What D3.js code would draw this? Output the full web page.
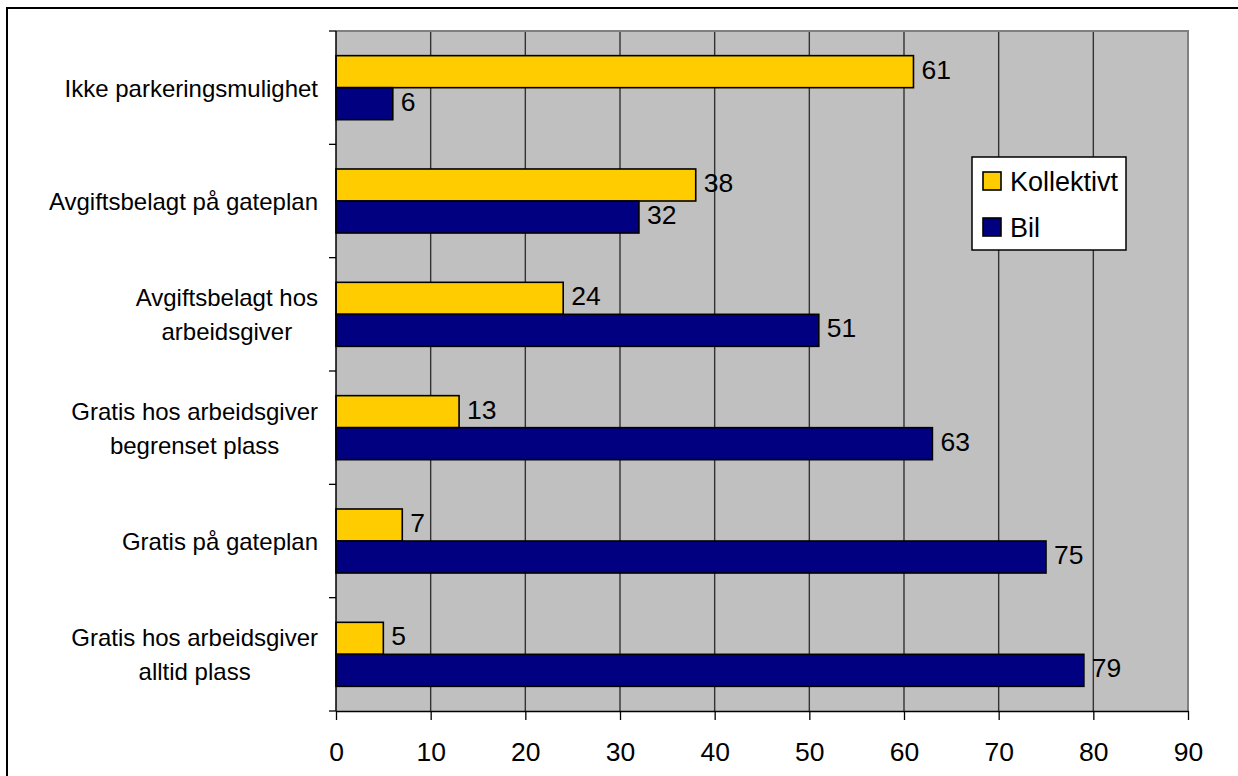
<!DOCTYPE html>
<html>
<head>
<meta charset="utf-8">
<script src="https://cdn.jsdelivr.net/npm/d3@7"></script>
<style>
	body { margin: 0; background: #fff; }
	text { font-family: 'Liberation Sans', Arial, sans-serif; fill: #000; }
</style>
</head>
<body>
<div id="chart"></div>
<script>
// categories, top to bottom (each entry = label lines)
var categories = [
	['Ikke parkeringsmulighet'],
	['Avgiftsbelagt på gateplan'],
	['Avgiftsbelagt hos', 'arbeidsgiver'],
	['Gratis hos arbeidsgiver', 'begrenset plass'],
	['Gratis på gateplan'],
	['Gratis hos arbeidsgiver', 'alltid plass']
];
var series = ['Kollektivt', 'Bil'];
var kollektivt = [61, 38, 24, 13, 7, 5];
var bil = [6, 32, 51, 63, 75, 79];
var xTicks = [0, 10, 20, 30, 40, 50, 60, 70, 80, 90];
var colors = ['#FFCC00', '#000080'];

var w = 1238, h = 776;
var plot = { left: 336, right: 1188, top: 31, bottom: 711 };

var svg = d3.select('#chart').append('svg')
	.attr('width', w)
	.attr('height', h);

// outer frame
svg.append('rect')
	.attr('x', 7).attr('y', 8)
	.attr('width', w + 10).attr('height', h + 10)
	.attr('fill', '#fff')
	.attr('stroke', '#000')
	.attr('stroke-width', 2);

var keys = categories.map(function(d, i) { return 'c' + i; });

var xScale = d3.scaleLinear().domain([0, 90]).range([plot.left, plot.right]);
var yScale = d3.scaleBand().domain(keys).range([plot.top, plot.bottom]);
var ySub = d3.scaleBand().domain(series).range([0, yScale.bandwidth()]).paddingOuter(0.77);

// plot background
svg.append('rect')
	.attr('x', plot.left).attr('y', plot.top)
	.attr('width', plot.right - plot.left)
	.attr('height', plot.bottom - plot.top)
	.attr('fill', '#C0C0C0');

// gridlines
svg.selectAll('.grid').data(xTicks.slice(1, -1)).enter()
	.append('line')
	.attr('class', 'grid')
	.attr('x1', function(d) { return xScale(d); })
	.attr('x2', function(d) { return xScale(d); })
	.attr('y1', plot.top).attr('y2', plot.bottom)
	.attr('stroke', '#333')
	.attr('stroke-width', 1.4);

// gray top/right border
svg.append('path')
	.attr('d', 'M' + plot.left + ',' + plot.top + 'H' + plot.right + 'V' + plot.bottom)
	.attr('fill', 'none')
	.attr('stroke', '#808080')
	.attr('stroke-width', 2);

// bars
var rows = [];
categories.forEach(function(c, i) {
	rows.push({ key: keys[i], s: 'Kollektivt', v: kollektivt[i], color: colors[0] });
	rows.push({ key: keys[i], s: 'Bil', v: bil[i], color: colors[1] });
});

svg.selectAll('.bar').data(rows).enter()
	.append('rect')
	.attr('class', 'bar')
	.attr('x', xScale(0))
	.attr('y', function(d) { return yScale(d.key) + ySub(d.s); })
	.attr('width', function(d) { return xScale(d.v) - xScale(0); })
	.attr('height', ySub.bandwidth())
	.attr('fill', function(d) { return d.color; })
	.attr('stroke', '#000')
	.attr('stroke-width', 1.6);

svg.selectAll('.val').data(rows).enter()
	.append('text')
	.attr('class', 'val')
	.attr('x', function(d) { return xScale(d.v) + 8; })
	.attr('y', function(d) { return yScale(d.key) + ySub(d.s) + ySub.bandwidth() / 2 + 7; })
	.attr('font-size', 26.5)
	.text(function(d) { return d.v; });

// axes
var xAxis = d3.axisBottom(xScale).tickValues(xTicks).tickSize(9).tickPadding(22).tickSizeOuter(0);
var gx = svg.append('g')
	.attr('transform', 'translate(0,' + plot.bottom + ')')
	.call(xAxis);
gx.select('.domain').attr('stroke', '#000').attr('stroke-width', 1.5);
gx.selectAll('.tick line').attr('stroke', '#000').attr('stroke-width', 1.3);
gx.selectAll('.tick text').attr('font-size', 26.5).attr('font-family', "'Liberation Sans', Arial, sans-serif").attr('fill', '#000');

// y axis line + ticks at category boundaries
svg.append('line')
	.attr('x1', plot.left).attr('x2', plot.left)
	.attr('y1', plot.top).attr('y2', plot.bottom)
	.attr('stroke', '#000').attr('stroke-width', 1.5);
var bounds = keys.map(function(k) { return yScale(k); }).concat([plot.bottom]);
svg.selectAll('.ytick').data(bounds).enter()
	.append('line')
	.attr('x1', plot.left - 7).attr('x2', plot.left)
	.attr('y1', function(d) { return d; })
	.attr('y2', function(d) { return d; })
	.attr('stroke', '#000').attr('stroke-width', 1.3);

// category labels: lines centred on each other, block right-aligned
var lineH = 34;
var labels = svg.selectAll('.cat').data(categories).enter()
	.append('text')
	.attr('class', 'cat')
	.attr('font-size', 24)
	.attr('text-anchor', 'middle');
labels.each(function(lines, i) {
	var t = d3.select(this);
	var cy = yScale(keys[i]) + yScale.bandwidth() / 2;
	var y0 = cy - (lines.length - 1) * lineH / 2 + 9;
	lines.forEach(function(l, j) {
		t.append('tspan').attr('y', y0 + j * lineH).text(l);
	});
	var maxW = 0;
	t.selectAll('tspan').each(function() { maxW = Math.max(maxW, this.getComputedTextLength()); });
	t.selectAll('tspan').attr('x', 318 - maxW / 2);
});

// legend
var lg = svg.append('g').attr('transform', 'translate(972,157)');
lg.append('rect')
	.attr('width', 154).attr('height', 93)
	.attr('fill', '#fff').attr('stroke', '#000').attr('stroke-width', 1.5);
var items = lg.selectAll('.item').data(series).enter()
	.append('g')
	.attr('transform', function(d, i) { return 'translate(11,' + (15 + i * 46) + ')'; });
items.append('rect')
	.attr('width', 18).attr('height', 18)
	.attr('fill', function(d, i) { return colors[i]; })
	.attr('stroke', '#000').attr('stroke-width', 1.6);
items.append('text')
	.attr('x', 27).attr('y', 19)
	.attr('font-size', 27)
	.text(function(d) { return d; });
</script>
</body>
</html>
